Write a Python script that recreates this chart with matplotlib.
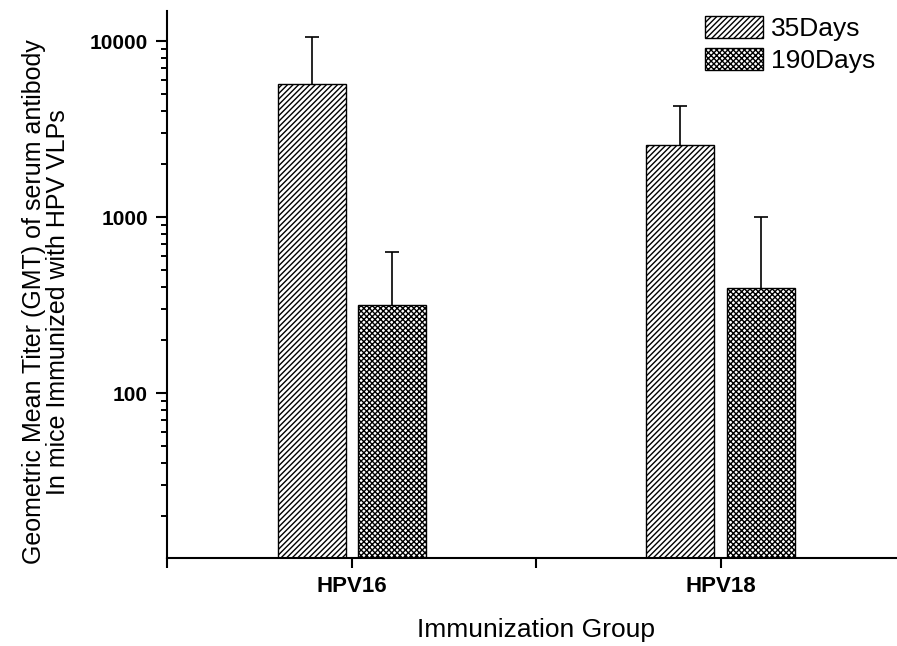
import numpy as np
import matplotlib
matplotlib.use("Agg")
import matplotlib.pyplot as plt
from matplotlib.ticker import FixedLocator, FixedFormatter, NullFormatter

plt.rcParams["font.family"] = ["Liberation Sans", "DejaVu Sans"]
plt.rcParams["hatch.linewidth"] = 1.0

# data
groups = ["HPV16", "HPV18"]
gmt_35 = [5716, 2574]
err_35 = [4820, 1714]
gmt_190 = [316, 394]
err_190 = [315, 608]
labels = ["35Days", "190Days"]

x = np.arange(1, len(groups) + 1)
w = 0.184
off = 0.109

fig = plt.figure(figsize=(8.97, 6.46), dpi=100)
ax = fig.add_axes([0.1867, 0.1367, 0.8222, 0.8455])

ax.bar(x - off, gmt_35, w, color="white", edgecolor="black", hatch="//////",
       linewidth=1.0, label=labels[0], zorder=2)
ax.bar(x + off, gmt_190, w, color="white", edgecolor="black", hatch="xxxxxx",
       linewidth=1.0, label=labels[1], zorder=2)

# upper error bars only (hide the lower cap sitting on the bar top)
for xs, ys, es in [(x - off, gmt_35, err_35), (x + off, gmt_190, err_190)]:
    _, caps, _ = ax.errorbar(xs, ys, yerr=[np.zeros(len(xs)), es], fmt="none",
                             ecolor="black", elinewidth=1.2, capsize=5,
                             capthick=1.2, zorder=3)
    caps[0].set_visible(False)

ax.set_yscale("log")
ax.set_ylim(11.6, 14750)
ax.set_xlim(0.5, 2.5)

ax.yaxis.set_major_locator(FixedLocator([100, 1000, 10000]))
ax.yaxis.set_major_formatter(FixedFormatter(["100", "1000", "10000"]))
minor = [m * 10 ** d for d in range(1, 5) for m in range(2, 10)]
ax.yaxis.set_minor_locator(FixedLocator(minor))
ax.yaxis.set_minor_formatter(NullFormatter())
for t in ax.get_yticklabels():
    t.set_fontweight("bold")

ax.set_xticks([0.5, 1, 1.5, 2, 2.5])
ax.set_xticklabels(["", groups[0], "", groups[1], ""], fontsize=16, fontweight="bold")

ax.tick_params(axis="y", which="major", length=8, width=1.5, pad=6,
               labelsize=15)
ax.tick_params(axis="y", which="minor", left=True, length=4.3, width=1.4,
               color="black")
ax.tick_params(axis="x", length=7, width=1.5, pad=6)

for s in ["top", "right"]:
    ax.spines[s].set_visible(False)
for s in ["left", "bottom"]:
    ax.spines[s].set_linewidth(1.5)

ax.set_xlabel("Immunization Group", fontsize=19, labelpad=15)

fig.text(46 / 897, 1 - 302 / 646,
         "Geometric Mean Titer (GMT) of serum antibody\nIn mice Immunized with HPV VLPs",
         rotation=90, ha="center", va="center", multialignment="center",
         fontsize=18, linespacing=1.05)

ax.legend(loc="upper left", bbox_to_anchor=(705 / 897, 1 - 16 / 646),
          bbox_transform=fig.transFigure, frameon=False, fontsize=19,
          handlelength=2.2, handleheight=0.9, handletextpad=0.3,
          labelspacing=0.25, borderpad=0, borderaxespad=0)

fig.savefig("out.png", dpi=100)
